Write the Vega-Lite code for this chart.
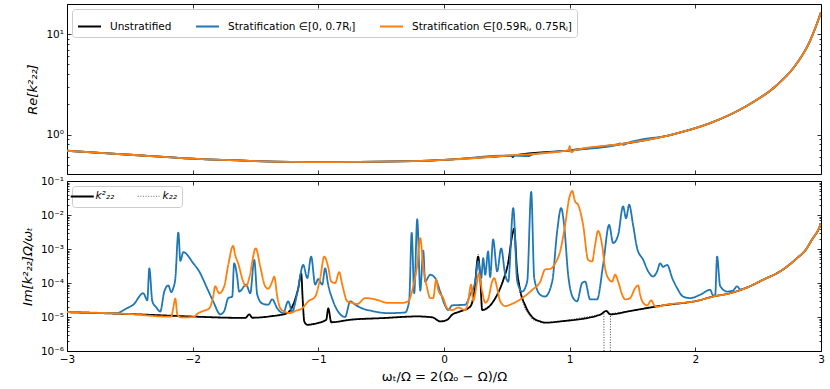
{
  "$schema": "https://vega.github.io/schema/vega-lite/v6.json",
  "padding": {"left": 20, "top": 3, "right": 5, "bottom": 2},
  "spacing": 0,
  "config": {
    "font": "DejaVu Sans",
    "view": {"stroke": "#000000", "strokeWidth": 1},
    "axis": {"grid": false, "domain": false, "tickColor": "#000000", "tickWidth": 0.8, "labelColor": "#000000", "labelFontSize": 10.5, "labelFont": "DejaVu Sans", "titleFont": "DejaVu Sans", "titleFontWeight": "normal", "titleColor": "#000000", "titleFontSize": 13, "labelFlush": false, "labelOverlap": false, "minExtent": 0},
    "legend": {"orient": "top-left", "offset": 5, "direction": "horizontal", "symbolType": "stroke", "symbolSize": 529, "symbolStrokeWidth": 2, "labelFontSize": 10.5, "labelFont": "DejaVu Sans", "labelColor": "#000000", "labelOffset": 8, "columnPadding": 20, "padding": 5, "strokeColor": "#cccccc", "cornerRadius": 3, "fillColor": "#ffffff", "labelLimit": 400}
  },
  "datasets": {
    "reU": [
      {"x": -3.0, "v": 0.69}, {"x": -2.5, "v": 0.63}, {"x": -2.0, "v": 0.575}, {"x": -1.5, "v": 0.545}, {"x": -1.0, "v": 0.532}, {"x": -0.5, "v": 0.537}, {"x": 0.0, "v": 0.56}, {"x": 0.42, "v": 0.605}, {"x": 0.53, "v": 0.615}, {"x": 0.547, "v": 0.598}, {"x": 0.56, "v": 0.622}, {"x": 1.004, "v": 0.698}, {"x": 1.455, "v": 0.82}, {"x": 1.8, "v": 0.99}, {"x": 2.118, "v": 1.3}, {"x": 2.383, "v": 1.85}, {"x": 2.648, "v": 3.1}, {"x": 2.78, "v": 4.6}, {"x": 2.913, "v": 8.6}, {"x": 2.96, "v": 12}, {"x": 2.993, "v": 15.6}, {"x": 3.0, "v": 16.5}
    ],
    "reB": [
      {"x": -3.0, "v": 0.69}, {"x": -2.5, "v": 0.63}, {"x": -2.0, "v": 0.575}, {"x": -1.5, "v": 0.545}, {"x": -1.0, "v": 0.532}, {"x": -0.5, "v": 0.537}, {"x": 0.0, "v": 0.56}, {"x": 0.527, "v": 0.619}, {"x": 0.68, "v": 0.612}, {"x": 0.7, "v": 0.63}, {"x": 1.004, "v": 0.698}, {"x": 1.38, "v": 0.79}, {"x": 1.4, "v": 0.815}, {"x": 1.43, "v": 0.79}, {"x": 1.455, "v": 0.82}, {"x": 1.8, "v": 0.99}, {"x": 2.118, "v": 1.3}, {"x": 2.383, "v": 1.85}, {"x": 2.648, "v": 3.1}, {"x": 2.78, "v": 4.6}, {"x": 2.913, "v": 8.6}, {"x": 2.96, "v": 12}, {"x": 2.993, "v": 15.6}, {"x": 3.0, "v": 16.5}
    ],
    "reO": [
      {"x": -3.0, "v": 0.69}, {"x": -2.5, "v": 0.63}, {"x": -2.0, "v": 0.575}, {"x": -1.5, "v": 0.545}, {"x": -1.0, "v": 0.532}, {"x": -0.5, "v": 0.537}, {"x": 0.0, "v": 0.56}, {"x": 0.527, "v": 0.619}, {"x": 0.99, "v": 0.695}, {"x": 1.0, "v": 0.77}, {"x": 1.012, "v": 0.665}, {"x": 1.04, "v": 0.7}, {"x": 1.455, "v": 0.82}, {"x": 1.8, "v": 0.99}, {"x": 2.118, "v": 1.3}, {"x": 2.383, "v": 1.85}, {"x": 2.648, "v": 3.1}, {"x": 2.78, "v": 4.6}, {"x": 2.913, "v": 8.6}, {"x": 2.96, "v": 12}, {"x": 2.993, "v": 15.6}, {"x": 3.0, "v": 16.5}
    ],
    "imU": [
      {"x": -3.0, "v": 1.39e-5}, {"x": -2.496, "v": 1.22e-5}, {"x": -2.0, "v": 1.03e-5}, {"x": -1.7, "v": 9.5e-6}, {"x": -1.58, "v": 9.4e-6}, {"x": -1.55, "v": 1.2e-5}, {"x": -1.525, "v": 9.5e-6}, {"x": -1.38, "v": 1.05e-5}, {"x": -1.247, "v": 1.3e-5}, {"x": -1.2, "v": 2.3e-5}, {"x": -1.16, "v": 7e-5}, {"x": -1.136, "v": 1.9e-4}, {"x": -1.124, "v": 3e-5}, {"x": -1.112, "v": 7.4e-6}, {"x": -1.088, "v": 5.9e-6}, {"x": -1.009, "v": 6.6e-6}, {"x": -0.937, "v": 8.3e-6}, {"x": -0.921, "v": 1.8e-5}, {"x": -0.897, "v": 7e-6}, {"x": -0.746, "v": 8.3e-6}, {"x": -0.484, "v": 9.3e-6}, {"x": -0.213, "v": 1.04e-5}, {"x": -0.094, "v": 9.8e-6}, {"x": -0.03, "v": 7.4e-6}, {"x": 0.026, "v": 8.3e-6}, {"x": 0.065, "v": 1.17e-5}, {"x": 0.129, "v": 1.46e-5}, {"x": 0.208, "v": 2e-5}, {"x": 0.24, "v": 5e-5}, {"x": 0.272, "v": 6e-4}, {"x": 0.288, "v": 1.5e-4}, {"x": 0.304, "v": 1.6e-5}, {"x": 0.368, "v": 2.2e-5}, {"x": 0.423, "v": 4.5e-5}, {"x": 0.471, "v": 1.2e-4}, {"x": 0.511, "v": 4e-4}, {"x": 0.543, "v": 2.5e-3}, {"x": 0.559, "v": 4e-3}, {"x": 0.579, "v": 3e-4}, {"x": 0.607, "v": 6e-5}, {"x": 0.646, "v": 2.2e-5}, {"x": 0.702, "v": 1e-5}, {"x": 0.766, "v": 7.4e-6}, {"x": 0.805, "v": 6.8e-6}, {"x": 0.924, "v": 7.4e-6}, {"x": 1.243, "v": 1.17e-5}, {"x": 1.291, "v": 1.5e-5}, {"x": 1.322, "v": 1.2e-5}, {"x": 1.481, "v": 1.5e-5}, {"x": 1.64, "v": 1.9e-5}, {"x": 1.744, "v": 2.2e-5}, {"x": 2.014, "v": 3e-5}, {"x": 2.142, "v": 4e-5}, {"x": 2.277, "v": 5e-5}, {"x": 2.412, "v": 7.4e-5}, {"x": 2.54, "v": 1.25e-4}, {"x": 2.675, "v": 2.2e-4}, {"x": 2.81, "v": 5.4e-4}, {"x": 2.874, "v": 9e-4}, {"x": 2.936, "v": 2.1e-3}, {"x": 2.976, "v": 3.5e-3}, {"x": 3.0, "v": 5.7e-3}
    ],
    "imUd": [
      {"x": -3.0, "v": 1.39e-5}, {"x": -2.496, "v": 1.22e-5}, {"x": -2.0, "v": 1.03e-5}, {"x": -1.7, "v": 9.5e-6}, {"x": -1.58, "v": 9.4e-6}, {"x": -1.55, "v": 1.2e-5}, {"x": -1.525, "v": 9.5e-6}, {"x": -1.38, "v": 1.05e-5}, {"x": -1.247, "v": 1.3e-5}, {"x": -1.2, "v": 2.3e-5}, {"x": -1.16, "v": 7e-5}, {"x": -1.136, "v": 1.9e-4}, {"x": -1.124, "v": 3e-5}, {"x": -1.112, "v": 7.4e-6}, {"x": -1.088, "v": 5.9e-6}, {"x": -1.009, "v": 6.6e-6}, {"x": -0.937, "v": 8.3e-6}, {"x": -0.921, "v": 1.8e-5}, {"x": -0.897, "v": 7e-6}, {"x": -0.746, "v": 8.3e-6}, {"x": -0.484, "v": 9.3e-6}, {"x": -0.213, "v": 1.04e-5}, {"x": -0.094, "v": 9.8e-6}, {"x": -0.03, "v": 7.4e-6}, {"x": 0.026, "v": 8.3e-6}, {"x": 0.065, "v": 1.17e-5}, {"x": 0.129, "v": 1.46e-5}, {"x": 0.208, "v": 2e-5}, {"x": 0.24, "v": 5e-5}, {"x": 0.272, "v": 7e-4}, {"x": 0.288, "v": 1.5e-4}, {"x": 0.304, "v": 1.6e-5}, {"x": 0.368, "v": 2.2e-5}, {"x": 0.423, "v": 4.5e-5}, {"x": 0.471, "v": 1.2e-4}, {"x": 0.511, "v": 4e-4}, {"x": 0.543, "v": 2.5e-3}, {"x": 0.559, "v": 4e-3}, {"x": 0.579, "v": 2.5e-4}, {"x": 0.607, "v": 4.5e-5}, {"x": 0.646, "v": 1.7e-5}, {"x": 0.702, "v": 8.5e-6}, {"x": 0.766, "v": 7e-6}, {"x": 0.805, "v": 6.8e-6}, {"x": 0.924, "v": 7.4e-6}, {"x": 1.243, "v": 1.17e-5}, {"x": 1.272, "v": 1.3e-5}, {"x": 1.277, "v": 1e-9}, {"x": 1.32, "v": 1e-9}, {"x": 1.325, "v": 1.25e-5}, {"x": 1.481, "v": 1.5e-5}, {"x": 1.64, "v": 1.9e-5}, {"x": 1.744, "v": 2.2e-5}, {"x": 2.014, "v": 3e-5}, {"x": 2.142, "v": 4e-5}, {"x": 2.277, "v": 5e-5}, {"x": 2.412, "v": 7.4e-5}, {"x": 2.54, "v": 1.25e-4}, {"x": 2.675, "v": 2.2e-4}, {"x": 2.81, "v": 5.4e-4}, {"x": 2.874, "v": 9e-4}, {"x": 2.936, "v": 2.1e-3}, {"x": 2.976, "v": 3.5e-3}, {"x": 3.0, "v": 5.7e-3}
    ],
    "imB": [
      {"x": -3.0, "v": 1.39e-5}, {"x": -2.608, "v": 1.3e-5}, {"x": -2.528, "v": 1.77e-5}, {"x": -2.473, "v": 2.3e-5}, {"x": -2.393, "v": 5e-5}, {"x": -2.361, "v": 3.1e-5}, {"x": -2.345, "v": 2.7e-4}, {"x": -2.321, "v": 2.9e-5}, {"x": -2.289, "v": 1.9e-5}, {"x": -2.258, "v": 1.45e-5}, {"x": -2.226, "v": 5.6e-5}, {"x": -2.194, "v": 8.5e-5}, {"x": -2.17, "v": 5.4e-5}, {"x": -2.154, "v": 7.1e-5}, {"x": -2.138, "v": 1.35e-4}, {"x": -2.114, "v": 3.05e-3}, {"x": -2.098, "v": 4.5e-4}, {"x": -2.074, "v": 8.1e-4}, {"x": -1.995, "v": 3.8e-4}, {"x": -1.948, "v": 2.2e-4}, {"x": -1.892, "v": 8e-5}, {"x": -1.837, "v": 2.9e-5}, {"x": -1.78, "v": 1.2e-5}, {"x": -1.749, "v": 1.5e-5}, {"x": -1.717, "v": 3.6e-5}, {"x": -1.685, "v": 4e-5}, {"x": -1.67, "v": 3.8e-4}, {"x": -1.646, "v": 1.55e-4}, {"x": -1.63, "v": 5.6e-5}, {"x": -1.574, "v": 8.9e-5}, {"x": -1.542, "v": 5e-5}, {"x": -1.51, "v": 4.8e-4}, {"x": -1.486, "v": 4.5e-5}, {"x": -1.446, "v": 2.5e-5}, {"x": -1.399, "v": 2.3e-5}, {"x": -1.367, "v": 3.3e-5}, {"x": -1.327, "v": 1.8e-5}, {"x": -1.28, "v": 1.3e-5}, {"x": -1.24, "v": 2.9e-5}, {"x": -1.208, "v": 1.45e-5}, {"x": -1.168, "v": 5e-5}, {"x": -1.12, "v": 3.4e-4}, {"x": -1.088, "v": 1.4e-4}, {"x": -1.057, "v": 6e-4}, {"x": -1.025, "v": 9e-5}, {"x": -1.001, "v": 1.3e-4}, {"x": -0.969, "v": 9e-5}, {"x": -0.946, "v": 2.7e-4}, {"x": -0.922, "v": 9e-5}, {"x": -0.882, "v": 2.9e-5}, {"x": -0.826, "v": 1.2e-5}, {"x": -0.787, "v": 1e-5}, {"x": -0.746, "v": 2.9e-5}, {"x": -0.707, "v": 2.3e-5}, {"x": -0.651, "v": 1.8e-5}, {"x": -0.571, "v": 1.5e-5}, {"x": -0.444, "v": 1.3e-5}, {"x": -0.309, "v": 1.36e-5}, {"x": -0.277, "v": 3e-5}, {"x": -0.257, "v": 3e-3}, {"x": -0.237, "v": 5e-5}, {"x": -0.213, "v": 7.5e-3}, {"x": -0.189, "v": 6e-5}, {"x": -0.165, "v": 9e-4}, {"x": -0.15, "v": 1.1e-4}, {"x": -0.11, "v": 1.75e-4}, {"x": -0.07, "v": 1.4e-4}, {"x": -0.03, "v": 5.6e-5}, {"x": 0.01, "v": 2.1e-5}, {"x": 0.033, "v": 1.6e-5}, {"x": 0.065, "v": 2.2e-5}, {"x": 0.169, "v": 2.3e-5}, {"x": 0.208, "v": 4.5e-5}, {"x": 0.248, "v": 1.1e-4}, {"x": 0.272, "v": 4.3e-4}, {"x": 0.296, "v": 1.4e-4}, {"x": 0.312, "v": 5.4e-4}, {"x": 0.328, "v": 1.75e-4}, {"x": 0.351, "v": 8.5e-4}, {"x": 0.367, "v": 1.5e-4}, {"x": 0.391, "v": 1.9e-3}, {"x": 0.423, "v": 2.2e-4}, {"x": 0.455, "v": 1.05e-3}, {"x": 0.487, "v": 1.75e-4}, {"x": 0.511, "v": 1.1e-4}, {"x": 0.551, "v": 1.6e-2}, {"x": 0.583, "v": 1.1e-4}, {"x": 0.622, "v": 5.6e-5}, {"x": 0.662, "v": 1.1e-4}, {"x": 0.694, "v": 4.8e-2}, {"x": 0.718, "v": 1.4e-4}, {"x": 0.766, "v": 4.5e-5}, {"x": 0.805, "v": 4e-5}, {"x": 0.861, "v": 1.1e-4}, {"x": 0.9, "v": 3.2e-3}, {"x": 0.932, "v": 1.6e-2}, {"x": 0.956, "v": 5.1e-3}, {"x": 0.988, "v": 1.75e-4}, {"x": 1.028, "v": 3.6e-5}, {"x": 1.059, "v": 2.9e-5}, {"x": 1.099, "v": 1e-4}, {"x": 1.123, "v": 1.1e-4}, {"x": 1.163, "v": 3.3e-5}, {"x": 1.218, "v": 3.3e-5}, {"x": 1.266, "v": 3.4e-4}, {"x": 1.314, "v": 5.1e-3}, {"x": 1.346, "v": 1.5e-3}, {"x": 1.386, "v": 2.6e-3}, {"x": 1.425, "v": 1.8e-2}, {"x": 1.449, "v": 8e-3}, {"x": 1.473, "v": 2e-2}, {"x": 1.505, "v": 5e-3}, {"x": 1.537, "v": 1.05e-3}, {"x": 1.585, "v": 4.8e-4}, {"x": 1.625, "v": 2.2e-4}, {"x": 1.664, "v": 1.55e-4}, {"x": 1.696, "v": 2.2e-4}, {"x": 1.72, "v": 3.8e-4}, {"x": 1.744, "v": 3e-4}, {"x": 1.776, "v": 3.4e-4}, {"x": 1.816, "v": 1.4e-4}, {"x": 1.855, "v": 7.1e-5}, {"x": 1.903, "v": 4e-5}, {"x": 1.959, "v": 3.6e-5}, {"x": 2.038, "v": 4.5e-5}, {"x": 2.118, "v": 6.3e-5}, {"x": 2.142, "v": 4.3e-5}, {"x": 2.158, "v": 4.3e-5}, {"x": 2.173, "v": 6e-4}, {"x": 2.197, "v": 8.3e-5}, {"x": 2.253, "v": 5.6e-5}, {"x": 2.3, "v": 6e-5}, {"x": 2.332, "v": 8e-5}, {"x": 2.356, "v": 6.5e-5}, {"x": 2.412, "v": 7.4e-5}, {"x": 2.54, "v": 1.25e-4}, {"x": 2.675, "v": 2.2e-4}, {"x": 2.81, "v": 5.4e-4}, {"x": 2.874, "v": 9e-4}, {"x": 2.936, "v": 2.1e-3}, {"x": 2.976, "v": 3.5e-3}, {"x": 3.0, "v": 5.7e-3}
    ],
    "imO": [
      {"x": -3.0, "v": 1.39e-5}, {"x": -2.496, "v": 1.22e-5}, {"x": -2.21, "v": 1.03e-5}, {"x": -2.17, "v": 1.03e-5}, {"x": -2.154, "v": 1.9e-5}, {"x": -2.138, "v": 3.5e-5}, {"x": -2.122, "v": 1.17e-5}, {"x": -2.091, "v": 9.7e-6}, {"x": -1.995, "v": 1e-5}, {"x": -1.956, "v": 1.3e-5}, {"x": -1.916, "v": 1.5e-5}, {"x": -1.868, "v": 1.8e-5}, {"x": -1.837, "v": 4e-5}, {"x": -1.821, "v": 8e-5}, {"x": -1.789, "v": 5e-5}, {"x": -1.749, "v": 8e-5}, {"x": -1.717, "v": 3.4e-4}, {"x": -1.678, "v": 1.24e-3}, {"x": -1.662, "v": 6.7e-4}, {"x": -1.638, "v": 3.8e-4}, {"x": -1.598, "v": 1.1e-4}, {"x": -1.574, "v": 8e-5}, {"x": -1.55, "v": 1.4e-4}, {"x": -1.498, "v": 1.05e-3}, {"x": -1.462, "v": 3e-4}, {"x": -1.423, "v": 8e-5}, {"x": -1.399, "v": 6.8e-5}, {"x": -1.367, "v": 1.1e-4}, {"x": -1.351, "v": 1.55e-4}, {"x": -1.327, "v": 4e-5}, {"x": -1.303, "v": 1.8e-5}, {"x": -1.264, "v": 1.4e-5}, {"x": -1.224, "v": 1.3e-5}, {"x": -1.184, "v": 1.5e-5}, {"x": -1.128, "v": 1.8e-5}, {"x": -1.08, "v": 2.9e-5}, {"x": -1.025, "v": 4e-5}, {"x": -0.985, "v": 1.4e-4}, {"x": -0.953, "v": 6e-4}, {"x": -0.922, "v": 3e-4}, {"x": -0.897, "v": 1.1e-4}, {"x": -0.866, "v": 1e-4}, {"x": -0.834, "v": 2.1e-4}, {"x": -0.81, "v": 9e-5}, {"x": -0.77, "v": 2.9e-5}, {"x": -0.731, "v": 2.6e-5}, {"x": -0.691, "v": 2.4e-5}, {"x": -0.627, "v": 3.6e-5}, {"x": -0.548, "v": 3.3e-5}, {"x": -0.444, "v": 2.6e-5}, {"x": -0.333, "v": 2.6e-5}, {"x": -0.285, "v": 2.9e-5}, {"x": -0.245, "v": 8e-5}, {"x": -0.213, "v": 3.4e-4}, {"x": -0.189, "v": 2.1e-3}, {"x": -0.165, "v": 3e-4}, {"x": -0.134, "v": 7.1e-5}, {"x": -0.11, "v": 3.6e-5}, {"x": -0.086, "v": 3.6e-5}, {"x": -0.062, "v": 1.25e-4}, {"x": -0.046, "v": 6.3e-5}, {"x": -0.006, "v": 3.6e-5}, {"x": 0.026, "v": 1.8e-5}, {"x": 0.065, "v": 1.6e-5}, {"x": 0.113, "v": 1.9e-5}, {"x": 0.169, "v": 1.6e-5}, {"x": 0.192, "v": 2.9e-5}, {"x": 0.216, "v": 9e-5}, {"x": 0.232, "v": 3e-5}, {"x": 0.264, "v": 1.1e-4}, {"x": 0.276, "v": 1.9e-4}, {"x": 0.304, "v": 5.6e-5}, {"x": 0.328, "v": 2.6e-5}, {"x": 0.351, "v": 3.3e-5}, {"x": 0.383, "v": 1.1e-4}, {"x": 0.399, "v": 1.4e-4}, {"x": 0.423, "v": 7.1e-5}, {"x": 0.447, "v": 2.9e-5}, {"x": 0.487, "v": 2.1e-5}, {"x": 0.543, "v": 2.45e-5}, {"x": 0.622, "v": 3.6e-5}, {"x": 0.702, "v": 6.3e-5}, {"x": 0.766, "v": 1.1e-4}, {"x": 0.805, "v": 2.5e-4}, {"x": 0.845, "v": 2.6e-4}, {"x": 0.885, "v": 3.8e-4}, {"x": 0.924, "v": 8.5e-4}, {"x": 0.964, "v": 5.1e-3}, {"x": 0.996, "v": 3.1e-2}, {"x": 1.02, "v": 5.1e-2}, {"x": 1.043, "v": 2.5e-2}, {"x": 1.067, "v": 2e-2}, {"x": 1.107, "v": 5.1e-3}, {"x": 1.147, "v": 4.8e-4}, {"x": 1.179, "v": 4.3e-4}, {"x": 1.202, "v": 1.3e-3}, {"x": 1.226, "v": 3.4e-3}, {"x": 1.258, "v": 1.3e-3}, {"x": 1.282, "v": 2.7e-4}, {"x": 1.306, "v": 1.4e-4}, {"x": 1.338, "v": 1.1e-4}, {"x": 1.362, "v": 1.75e-4}, {"x": 1.386, "v": 1.1e-4}, {"x": 1.418, "v": 4.5e-5}, {"x": 1.441, "v": 3.3e-5}, {"x": 1.481, "v": 3.6e-5}, {"x": 1.521, "v": 7.1e-5}, {"x": 1.545, "v": 8.5e-5}, {"x": 1.561, "v": 4.5e-5}, {"x": 1.585, "v": 2.6e-5}, {"x": 1.617, "v": 2.2e-5}, {"x": 1.649, "v": 3.1e-5}, {"x": 1.673, "v": 2.2e-5}, {"x": 1.696, "v": 2e-5}, {"x": 1.744, "v": 2.2e-5}, {"x": 2.014, "v": 3e-5}, {"x": 2.142, "v": 4e-5}, {"x": 2.277, "v": 5e-5}, {"x": 2.412, "v": 7.4e-5}, {"x": 2.54, "v": 1.25e-4}, {"x": 2.675, "v": 2.2e-4}, {"x": 2.81, "v": 5.4e-4}, {"x": 2.874, "v": 9e-4}, {"x": 2.936, "v": 2.1e-3}, {"x": 2.976, "v": 3.5e-3}, {"x": 3.0, "v": 5.7e-3}
    ]
  },
  "resolve": {
    "scale": {"x": "independent", "y": "independent", "color": "independent", "strokeDash": "independent"},
    "axis": {"x": "independent", "y": "independent"},
    "legend": {"color": "independent", "strokeDash": "independent"}
  },
  "vconcat": [
    {
      "width": 754,
      "height": 170,
      "resolve": {"axis": {"x": "independent", "y": "independent"}},
      "layer": [
        {
          "data": {"name": "reU"},
          "mark": {"type": "line", "clip": true, "strokeWidth": 1.8, "interpolate": "monotone"},
          "encoding": {
            "x": {"field": "x", "type": "quantitative", "scale": {"domain": [-3, 3], "nice": false, "zero": false},
                  "axis": {"orient": "bottom", "values": [-3, -2, -1, 0, 1, 2, 3], "labels": false, "title": null, "tickSize": -4, "maxExtent": 0}},
            "y": {"field": "v", "type": "quantitative", "scale": {"type": "log", "domain": [0.405, 20], "nice": false},
                  "axis": {"orient": "left", "values": [0.5, 0.6, 0.7, 0.8, 0.9, 1, 2, 3, 4, 5, 6, 7, 8, 9, 10],
                           "labelExpr": "datum.value == 1 ? '10⁰' : datum.value == 10 ? '10¹' : ''",
                           "tickSize": {"condition": {"test": "datum.value == 1 || datum.value == 10", "value": -4}, "value": -2},
                           "labelPadding": 7.5, "title": "Re[k²₂₂]", "titleFontStyle": "italic", "titlePadding": 6}},
            "color": {"datum": "Unstratified", "type": "nominal",
                      "scale": {"domain": ["Unstratified", "Stratification ∈[0, 0.7Rⱼ]", "Stratification ∈[0.59Rⱼ, 0.75Rⱼ]"], "range": ["#000000", "#1f77b4", "#ff7f0e"]},
                      "legend": {"title": null, "orient": "top-left", "direction": "horizontal"}}
          }
        },
        {
          "data": {"name": "reB"},
          "mark": {"type": "line", "clip": true, "strokeWidth": 1.8, "interpolate": "monotone"},
          "encoding": {
            "x": {"field": "x", "type": "quantitative", "axis": null},
            "y": {"field": "v", "type": "quantitative", "axis": null},
            "color": {"datum": "Stratification ∈[0, 0.7Rⱼ]", "type": "nominal"}
          }
        },
        {
          "data": {"name": "reO"},
          "mark": {"type": "line", "clip": true, "strokeWidth": 1.8, "interpolate": "monotone"},
          "encoding": {
            "x": {"field": "x", "type": "quantitative", "axis": null},
            "y": {"field": "v", "type": "quantitative", "axis": null},
            "color": {"datum": "Stratification ∈[0.59Rⱼ, 0.75Rⱼ]", "type": "nominal"}
          }
        },
        {
          "data": {"name": "reU"},
          "mark": {"type": "line", "opacity": 0},
          "encoding": {
            "x": {"field": "x", "type": "quantitative", "axis": {"orient": "top", "values": [-3, -2, -1, 0, 1, 2, 3], "labels": false, "title": null, "tickSize": -4, "maxExtent": 0}},
            "y": {"field": "v", "type": "quantitative", "axis": {"orient": "right", "values": [0.5, 0.6, 0.7, 0.8, 0.9, 1, 2, 3, 4, 5, 6, 7, 8, 9, 10], "labels": false, "title": null, "maxExtent": 0,
                  "tickSize": {"condition": {"test": "datum.value == 1 || datum.value == 10", "value": -4}, "value": -2}}}
          }
        }
      ]
    },
    {
      "width": 754,
      "height": 170,
      "resolve": {"axis": {"x": "independent", "y": "independent"}},
      "layer": [
        {
          "data": {"name": "imUd"},
          "mark": {"type": "line", "clip": true, "strokeWidth": 1, "color": "#444444"},
          "encoding": {
            "x": {"field": "x", "type": "quantitative", "scale": {"domain": [-3, 3], "nice": false, "zero": false},
                  "axis": {"orient": "bottom", "values": [-3, -2, -1, 0, 1, 2, 3], "format": "d", "tickSize": -4, "labelPadding": 7.5, "title": "ωₜ/Ω = 2(Ωₒ − Ω)/Ω", "titlePadding": 5}},
            "y": {"field": "v", "type": "quantitative", "scale": {"type": "log", "domain": [0.000001, 0.1], "nice": false},
                  "axis": {"orient": "left", "values": [1e-6, 2e-6, 3e-6, 4e-6, 5e-6, 6e-6, 7e-6, 8e-6, 9e-6, 1e-5, 2e-5, 3e-5, 4e-5, 5e-5, 6e-5, 7e-5, 8e-5, 9e-5, 1e-4, 2e-4, 3e-4, 4e-4, 5e-4, 6e-4, 7e-4, 8e-4, 9e-4, 0.001, 0.002, 0.003, 0.004, 0.005, 0.006, 0.007, 0.008, 0.009, 0.01, 0.02, 0.03, 0.04, 0.05, 0.06, 0.07, 0.08, 0.09, 0.1],
                           "labelExpr": "datum.value == 0.1 ? '10⁻¹' : datum.value == 0.01 ? '10⁻²' : datum.value == 0.001 ? '10⁻³' : datum.value == 0.0001 ? '10⁻⁴' : datum.value == 0.00001 ? '10⁻⁵' : datum.value == 0.000001 ? '10⁻⁶' : ''",
                           "tickSize": {"condition": {"test": "indexof([0.1, 0.01, 0.001, 0.0001, 0.00001, 0.000001], datum.value) >= 0", "value": -4}, "value": -2},
                           "labelPadding": 7.5, "title": "Im[k²₂₂]Ω/ωₜ", "titleFontStyle": "italic", "titlePadding": 6}},
            "strokeDash": {"datum": "k₂₂", "type": "nominal",
                           "scale": {"domain": ["k²₂₂", "k₂₂"], "range": [[1, 0], [1, 1.6]]},
                           "legend": {"title": null, "orient": "top-left", "direction": "horizontal", "labelFontStyle": "italic", "symbolStrokeColor": "#000000",
                                      "encode": {"symbols": {"update": {"stroke": {"signal": "datum.index == 1 ? '#8a8a8a' : '#000000'"}, "strokeWidth": {"signal": "datum.index == 1 ? 1.3 : 2"}, "opacity": {"value": 1}}}}}}
          }
        },
        {
          "data": {"name": "imU"},
          "mark": {"type": "line", "clip": true, "strokeWidth": 1.8, "interpolate": "monotone"},
          "encoding": {
            "x": {"field": "x", "type": "quantitative", "axis": null},
            "y": {"field": "v", "type": "quantitative", "axis": null},
            "color": {"datum": "Unstratified", "type": "nominal",
                      "scale": {"domain": ["Unstratified", "B", "O"], "range": ["#000000", "#1f77b4", "#ff7f0e"]}, "legend": null},
            "strokeDash": {"datum": "k²₂₂", "type": "nominal"}
          }
        },
        {
          "data": {"name": "imB"},
          "mark": {"type": "line", "clip": true, "strokeWidth": 1.8, "interpolate": "monotone"},
          "encoding": {
            "x": {"field": "x", "type": "quantitative", "axis": null},
            "y": {"field": "v", "type": "quantitative", "axis": null},
            "color": {"datum": "B", "type": "nominal", "legend": null},
            "strokeDash": {"datum": "k²₂₂", "type": "nominal"}
          }
        },
        {
          "data": {"name": "imO"},
          "mark": {"type": "line", "clip": true, "strokeWidth": 1.8, "interpolate": "monotone"},
          "encoding": {
            "x": {"field": "x", "type": "quantitative", "axis": null},
            "y": {"field": "v", "type": "quantitative", "axis": null},
            "color": {"datum": "O", "type": "nominal", "legend": null},
            "strokeDash": {"datum": "k²₂₂", "type": "nominal"}
          }
        },
        {
          "data": {"name": "imU"},
          "mark": {"type": "line", "opacity": 0},
          "encoding": {
            "x": {"field": "x", "type": "quantitative", "axis": {"orient": "top", "values": [-3, -2, -1, 0, 1, 2, 3], "labels": false, "title": null, "tickSize": -4, "maxExtent": 0}},
            "y": {"field": "v", "type": "quantitative", "axis": {"orient": "right", "values": [1e-6, 2e-6, 3e-6, 4e-6, 5e-6, 6e-6, 7e-6, 8e-6, 9e-6, 1e-5, 2e-5, 3e-5, 4e-5, 5e-5, 6e-5, 7e-5, 8e-5, 9e-5, 1e-4, 2e-4, 3e-4, 4e-4, 5e-4, 6e-4, 7e-4, 8e-4, 9e-4, 0.001, 0.002, 0.003, 0.004, 0.005, 0.006, 0.007, 0.008, 0.009, 0.01, 0.02, 0.03, 0.04, 0.05, 0.06, 0.07, 0.08, 0.09, 0.1], "labels": false, "title": null, "maxExtent": 0,
                  "tickSize": {"condition": {"test": "indexof([0.1, 0.01, 0.001, 0.0001, 0.00001, 0.000001], datum.value) >= 0", "value": -4}, "value": -2}}}
          }
        }
      ]
    }
  ]
}
